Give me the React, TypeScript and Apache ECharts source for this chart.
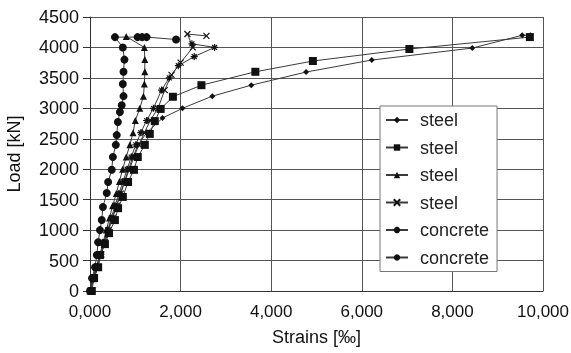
import React, { useEffect, useRef } from "react";
import * as echarts from "echarts";

const seriesNames = ["steel", "steel", "steel", "steel", "concrete", "concrete"];

const steel1Strain = [0, 60, 140, 230, 320, 400, 490, 580, 670, 760, 850, 950, 1060, 1250, 1600, 2040, 2700, 3560, 4770, 6220, 8440, 9540, 9720];
const steel1Load = [0, 200, 400, 600, 800, 1000, 1200, 1400, 1600, 1800, 2000, 2200, 2400, 2600, 2840, 3000, 3200, 3380, 3596, 3793, 3990, 4200, 4200];

const steel2Strain = [40, 90, 180, 220, 330, 420, 550, 620, 725, 840, 970, 1055, 1210, 1320, 1430, 1560, 1830, 2460, 3650, 4920, 7050, 9710];
const steel2Load = [0, 213, 390, 590, 770, 950, 1165, 1360, 1545, 1790, 1990, 2200, 2400, 2580, 2790, 2990, 3190, 3380, 3600, 3777, 3974, 4170];

const steel3Strain = [0, 70, 150, 220, 290, 360, 430, 500, 580, 650, 720, 800, 880, 950, 1000, 1100, 1180, 1200, 1210, 1210, 1200, 800];
const steel3Load = [0, 200, 400, 600, 800, 1000, 1200, 1400, 1600, 1800, 2000, 2200, 2400, 2600, 2800, 3000, 3200, 3400, 3600, 3800, 4000, 4180];

const steel4Strain = [0, 90, 170, 250, 330, 410, 500, 590, 680, 770, 870, 970, 1080, 1200, 1330, 1500, 1650, 1800, 2000, 2270, 2150, 2570];
const steel4Load = [0, 200, 400, 600, 800, 1000, 1200, 1400, 1600, 1800, 2000, 2200, 2400, 2600, 2800, 3000, 3300, 3550, 3750, 4000, 4220, 4190];

const concrete1Strain = [0, 80, 160, 240, 310, 390, 470, 550, 640, 730, 820, 910, 1010, 1120, 1250, 1400, 1580, 1750, 1950, 2300, 2750, 2250];
const concrete1Load = [0, 200, 400, 600, 800, 1000, 1200, 1400, 1600, 1800, 2000, 2200, 2400, 2600, 2800, 3000, 3300, 3500, 3700, 3850, 4000, 4060];

const concrete2Strain = [0, 45, 110, 150, 180, 220, 260, 285, 370, 400, 480, 505, 570, 590, 615, 660, 700, 740, 725, 740, 760, 725, 550, 1050, 1150, 1250, 1900];
const concrete2Load = [0, 210, 390, 590, 800, 1000, 1165, 1380, 1610, 1790, 1990, 2200, 2400, 2560, 2775, 2940, 3050, 3200, 3400, 3600, 3800, 4000, 4170, 4170, 4170, 4170, 4130];

const zip = (a: number[], b: number[]) => a.map((v, i) => [v, b[i]]);

const crossSym = "path://M0,0L10,10M10,0L0,10";
const starSym = "path://M5,0L5,10M0,5L10,5M1.5,1.5L8.5,8.5M8.5,1.5L1.5,8.5";

export default function App() {
  const ref = useRef<HTMLDivElement>(null);
  useEffect(() => {
    if (!ref.current) return;
    const chart = echarts.init(ref.current, null, { renderer: "svg" });
    const font = "Liberation Sans, Arial, sans-serif";
    const lineCol = "#3a3a3a";
    const markCol = "#111";
    const ids = ["s1", "s2", "s3", "s4", "c1", "c2"];
    const mk = (i: number, data: number[][], symbol: string, size: number, stroke = false) => ({
      name: ids[i],
      type: "line",
      data,
      symbol,
      symbolSize: size,
      showSymbol: true,
      lineStyle: { color: lineCol, width: 1 },
      itemStyle: stroke
        ? { color: "rgba(0,0,0,0)", borderColor: markCol, borderWidth: 1.2 }
        : { color: markCol, borderWidth: 0 },
      emphasis: { disabled: true },
      z: 3,
    });
    chart.setOption({
      animation: false,
      textStyle: { fontFamily: font },
      grid: { left: 90, right: 28, top: 17, bottom: 62, containLabel: false, outerBoundsMode: "none" },
      legend: {
        orient: "vertical",
        left: 380,
        top: 106,
        padding: [5, 8, 5, 5],
        itemWidth: 22,
        itemHeight: 8,
        itemGap: 9.5,
        backgroundColor: "#fff",
        borderColor: "#777",
        borderWidth: 1,
        textStyle: { fontSize: 18, color: "#222", fontFamily: font, padding: [0, 0, 0, 7] },
        data: ids,
        formatter: (n: string) => seriesNames[ids.indexOf(n)],
      },
      xAxis: {
        type: "value",
        min: 0,
        max: 10000,
        interval: 2000,
        name: "Strains [‰]",
        nameLocation: "middle",
        nameGap: 37,
        nameTextStyle: { fontSize: 18, color: "#111", fontFamily: font },
        axisLine: { show: true, lineStyle: { color: "#333", width: 1 } },
        axisTick: { show: false },
        axisLabel: {
          fontSize: 17,
          color: "#111",
          margin: 12,
          formatter: (v: number) => (v / 1000).toFixed(3).replace(".", ","),
        },
        splitLine: { show: true, lineStyle: { color: "#555", width: 1 } },
      },
      yAxis: {
        type: "value",
        min: 0,
        max: 4500,
        interval: 500,
        name: "Load [kN]",
        nameLocation: "middle",
        nameGap: 67,
        nameTextStyle: { fontSize: 18, color: "#111", fontFamily: font },
        axisLine: { show: true, lineStyle: { color: "#333", width: 1 } },
        axisTick: { show: true, length: 7, lineStyle: { color: "#333" } },
        axisLabel: { fontSize: 18, color: "#111", margin: 11, formatter: (v: number) => String(v) },
        splitLine: { show: true, lineStyle: { color: "#555", width: 1 } },
      },
      series: [
        mk(0, zip(steel1Strain, steel1Load), "diamond", 6),
        mk(1, zip(steel2Strain, steel2Load), "rect", 8),
        mk(2, zip(steel3Strain, steel3Load), "triangle", 7),
        mk(3, zip(steel4Strain, steel4Load), crossSym, 6, true),
        mk(4, zip(concrete1Strain, concrete1Load), starSym, 7, true),
        mk(5, zip(concrete2Strain, concrete2Load), "circle", 8),
      ],
    });
    return () => chart.dispose();
  }, []);
  return <div ref={ref} style={{ position: "fixed", left: 0, top: 0, width: 571, height: 353 }} />;
}
